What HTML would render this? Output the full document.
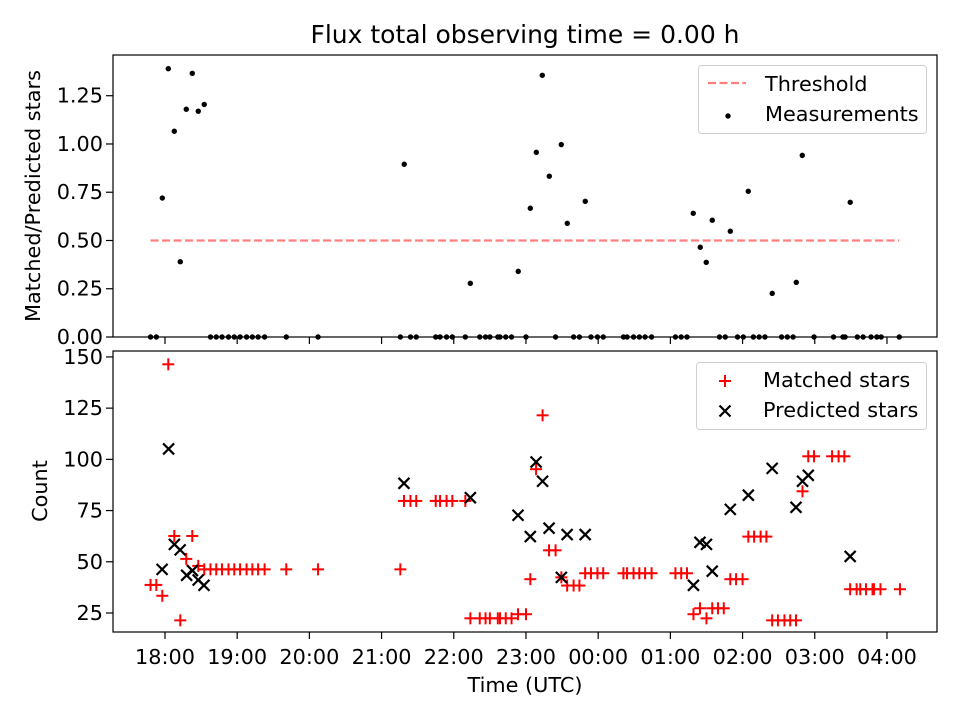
<!DOCTYPE html>
<html><head><meta charset="utf-8"><style>
html,body{margin:0;padding:0;background:#fff;}
svg{display:block;font-family:"DejaVu Sans","Liberation Sans",sans-serif;}
</style></head><body>
<svg id="chart" width="960" height="720" viewBox="0 0 960 720"></svg>
<script>
// ---- data ----
const xTickHours = [18,19,20,21,22,23,24,25,26,27,28];
const xTickLabels = ["18:00","19:00","20:00","21:00","22:00","23:00","00:00","01:00","02:00","03:00","04:00"];
const ratioTicks = [0,0.25,0.5,0.75,1.0,1.25];
const ratioTickLabels = ["0.00","0.25","0.50","0.75","1.00","1.25"];
const countTicks = [25,50,75,100,125,150];
const threshold = 0.5;
const thresholdRange = [17.80, 28.17];

const ratioTimes = [17.963,18.046,18.129,18.212,18.295,18.378,18.461,18.544,21.314,22.229,22.893,23.060,23.143,23.226,23.323,23.489,23.572,23.821,25.317,25.414,25.497,25.580,25.830,26.079,26.411,26.744,26.827,26.910,27.491];
const ratioValues = [0.72,1.39,1.066,0.39,1.18,1.366,1.17,1.205,0.895,0.278,0.34,0.667,0.957,1.356,0.833,0.997,0.589,0.703,0.641,0.465,0.387,0.605,0.548,0.755,0.226,0.283,0.941,1.097,0.698];
const zeroTimes = [17.80,17.88,18.63,18.71,18.79,18.88,18.96,19.04,19.13,19.21,19.29,19.38,19.68,20.12,21.26,21.40,21.48,21.75,21.81,21.90,21.98,22.16,22.36,22.44,22.50,22.61,22.64,22.72,22.80,23.00,23.41,23.66,23.74,23.90,23.99,24.07,24.35,24.40,24.49,24.57,24.65,24.74,25.07,25.15,25.23,25.68,25.76,25.93,26.01,26.15,26.23,26.31,26.54,26.62,26.70,26.99,27.26,27.39,27.42,27.59,27.67,27.78,27.86,27.92,28.17];

const matchedTimes = [17.80,17.88,17.963,18.046,18.129,18.212,18.295,18.378,18.461,18.544,18.63,18.71,18.79,18.88,18.96,19.04,19.13,19.21,19.29,19.38,19.68,20.12,21.26,21.31,21.40,21.48,21.75,21.81,21.90,21.98,22.16,22.23,22.36,22.44,22.50,22.61,22.64,22.72,22.80,22.89,23.00,23.06,23.14,23.23,23.32,23.41,23.49,23.57,23.66,23.74,23.82,23.90,23.99,24.07,24.35,24.40,24.49,24.57,24.65,24.74,25.07,25.15,25.23,25.32,25.41,25.50,25.58,25.66,25.74,25.83,25.91,26.00,26.08,26.16,26.25,26.33,26.41,26.49,26.58,26.66,26.74,26.83,26.91,26.99,27.24,27.33,27.41,27.49,27.58,27.63,27.71,27.80,27.82,27.91,28.18];
const matchedValues = [38.7,38.7,33.4,146.4,62.6,21.4,51.4,62.6,48,46.3,46.3,46.3,46.3,46.3,46.3,46.3,46.3,46.3,46.3,46.3,46.3,46.3,46.3,79.7,79.7,79.7,79.7,79.7,79.7,79.7,79.7,22.4,22.4,22.4,22.4,22.4,22.4,22.4,22.4,24.4,24.4,41.5,95.2,121.5,55.6,55.6,42.4,38.4,38.4,38.4,44.4,44.4,44.4,44.4,44.4,44.4,44.4,44.4,44.4,44.4,44.4,44.4,44.4,24.4,27.3,22.4,27.3,27.3,27.3,41.5,41.5,41.5,62.3,62.3,62.3,62.3,21.4,21.4,21.4,21.4,21.4,84.4,101.5,101.5,101.5,101.5,101.5,36.6,36.6,36.6,36.6,36.6,36.6,36.6,36.6];

const predictedTimes = [17.96,18.05,18.13,18.21,18.30,18.38,18.46,18.54,21.31,22.23,22.89,23.06,23.14,23.23,23.32,23.49,23.57,23.82,25.32,25.41,25.50,25.58,25.83,26.08,26.41,26.74,26.83,26.91,27.49];
const predictedValues = [46.3,105.1,58.5,55.8,43.4,45.7,41.1,38.5,88.3,81.3,72.7,62.3,98.7,89.3,66.4,42.4,63.3,63.3,38.5,59.5,58.5,45.4,75.6,82.5,95.6,76.6,89.3,92.2,52.6];

// ---- layout ----
const L=113,R=937;
const top1=55,bot1=337,top2=351,bot2=632;
const xMin=17.28,xMax=28.693;
const r1Min=0,r1Max=1.461;
const c2Min=15.72,c2Max=152.9;
const X=h=>L+(h-xMin)/(xMax-xMin)*(R-L);
const Y1=v=>bot1-(v-r1Min)/(r1Max-r1Min)*(bot1-top1);
const Y2=v=>bot2-(v-c2Min)/(c2Max-c2Min)*(bot2-top2);
const FS=20.8;

const svg=document.getElementById('chart');
const NS='http://www.w3.org/2000/svg';
function mk(tag,attrs,parent){const e=document.createElementNS(NS,tag);for(const k in attrs)e.setAttribute(k,attrs[k]);(parent||svg).appendChild(e);return e;}
function txt(s,attrs,parent){const e=mk('text',attrs,parent);e.textContent=s;return e;}

const title=txt('Flux total observing time = 0.00 h',{x:525,y:43,'font-size':25,'text-anchor':'middle',fill:'#000'});



// top panel
const g1=mk('g',{});


const thr=mk('line',{x1:X(thresholdRange[0]),x2:X(thresholdRange[1]),y1:Y1(threshold),y2:Y1(threshold),stroke:'#ff7f7f','stroke-width':2.2,'stroke-dasharray':'8,3.5'},g1);


zeroTimes.forEach(t=>{const c=mk('circle',{cx:X(t),cy:Y1(0),r:2.7,fill:'#000'},g1);

});
ratioTimes.forEach((t,i)=>{const c=mk('circle',{cx:X(t),cy:Y1(ratioValues[i]),r:2.7,fill:'#000'},g1);

});
const f1=mk('rect',{x:L,y:top1,width:R-L,height:bot1-top1,fill:'none',stroke:'#000','stroke-width':1.2},g1);


ratioTicks.forEach((v,i)=>{const y=Y1(v);mk('line',{x1:L-7,x2:L,y1:y,y2:y,stroke:'#000','stroke-width':1.2},g1);
const t=txt(ratioTickLabels[i],{x:L-10,y:y+7,'font-size':FS,'text-anchor':'end'},g1);

});
xTickHours.forEach(h=>{mk('line',{x1:X(h),x2:X(h),y1:bot1,y2:bot1+7,stroke:'#000','stroke-width':1.2},g1);});
const yl1=txt('Matched/Predicted stars',{x:0,y:0,'font-size':FS,'text-anchor':'middle',transform:'translate(40,196) rotate(-90)'},g1);



const lg1=mk('g',{},g1);


mk('rect',{x:698.5,y:65.5,width:228,height:68,rx:3,fill:'#fff',stroke:'#d0d0d0'},lg1);
mk('line',{x1:708,x2:746,y1:83,y2:83,stroke:'#ff7f7f','stroke-width':2.2,'stroke-dasharray':'8,3.5'},lg1);
const le1=txt('Threshold',{x:765,y:91,'font-size':FS},lg1);


mk('circle',{cx:728,cy:116,r:2.7,fill:'#000'},lg1);
const le2=txt('Measurements',{x:765,y:121,'font-size':FS},lg1);



// bottom panel
const g2=mk('g',{});


function plus(cx,cy,p){const g=mk('g',{stroke:'#ff0000','stroke-width':2},p);mk('line',{x1:cx-6,x2:cx+6,y1:cy,y2:cy},g);mk('line',{x1:cx,x2:cx,y1:cy-6,y2:cy+6},g);return g;}
function cross(cx,cy,p){const g=mk('g',{stroke:'#000','stroke-width':2.2},p);mk('line',{x1:cx-5.5,x2:cx+5.5,y1:cy-5.5,y2:cy+5.5},g);mk('line',{x1:cx-5.5,x2:cx+5.5,y1:cy+5.5,y2:cy-5.5},g);return g;}
matchedTimes.forEach((t,i)=>{const m=plus(X(t),Y2(matchedValues[i]),g2);

});
predictedTimes.forEach((t,i)=>{const m=cross(X(t),Y2(predictedValues[i]),g2);

});
const f2=mk('rect',{x:L,y:top2,width:R-L,height:bot2-top2,fill:'none',stroke:'#000','stroke-width':1.2},g2);


countTicks.forEach(v=>{const y=Y2(v);mk('line',{x1:L-7,x2:L,y1:y,y2:y,stroke:'#000','stroke-width':1.2},g2);
const t=txt(String(v),{x:L-10,y:y+7,'font-size':FS,'text-anchor':'end'},g2);

});
xTickHours.forEach((h,i)=>{mk('line',{x1:X(h),x2:X(h),y1:bot2,y2:bot2+7,stroke:'#000','stroke-width':1.2},g2);
const t=txt(xTickLabels[i],{x:X(h),y:bot2+32,'font-size':FS,'text-anchor':'middle'},g2);

});
const yl2=txt('Count',{x:0,y:0,'font-size':FS,'text-anchor':'middle',transform:'translate(47,491) rotate(-90)'},g2);


const xl=txt('Time (UTC)',{x:525,y:692,'font-size':FS,'text-anchor':'middle'},g2);



const lg2=mk('g',{},g2);


mk('rect',{x:696.5,y:362.5,width:230,height:67,rx:3,fill:'#fff',stroke:'#d0d0d0'},lg2);
plus(725,381,lg2);
const le3=txt('Matched stars',{x:763,y:387,'font-size':FS},lg2);


cross(725,411,lg2);
const le4=txt('Predicted stars',{x:763,y:417,'font-size':FS},lg2);


</script>
</body></html>
